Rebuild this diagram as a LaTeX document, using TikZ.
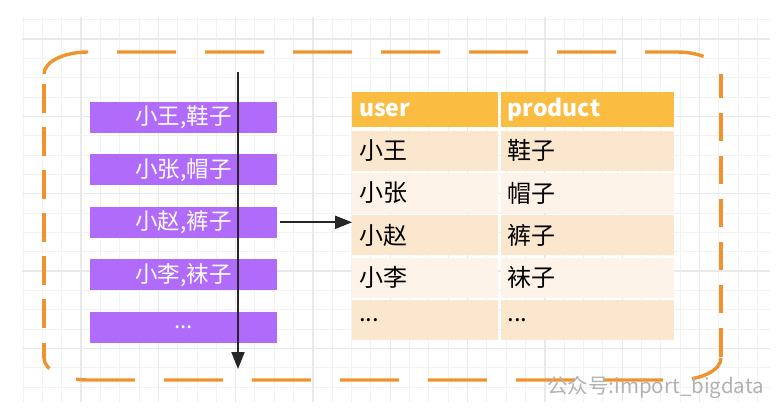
\documentclass[tikz,border=0pt]{standalone}
\usepackage{fontspec}
\setmainfont{Noto Sans CJK SC}
\usepackage{tikz}
\usetikzlibrary{positioning}
\usetikzlibrary{arrows.meta}

\definecolor{gridminor}{RGB}{242,242,242}
\definecolor{gridmajor}{RGB}{233,233,233}
\definecolor{dashorange}{RGB}{240,146,46}
\definecolor{recpurple}{RGB}{176,107,250}
\definecolor{headyellow}{RGB}{250,189,66}
\definecolor{rowdark}{RGB}{251,231,205}
\definecolor{rowlight}{RGB}{253,243,232}
\definecolor{arrowgray}{RGB}{38,38,38}
\definecolor{markgray}{RGB}{178,178,178}

\tikzset{
  gridthin/.style={draw=gridminor, line width=1pt},
  gridthick/.style={draw=gridmajor, line width=1.1pt},
  rimflat/.style={draw=dashorange, line width=3.4pt, dash pattern=on 59pt off 29pt},
  rimside/.style={draw=dashorange, line width=4.6pt, dash pattern=on 28.5pt off 14.5pt},
  record/.style={fill=recpurple, text=white, minimum width=187pt, minimum height=31pt, inner sep=0pt, font=\fontsize{22.5}{26}\selectfont},
  cellbase/.style={anchor=north west, minimum height=40pt, inner xsep=7pt, inner ysep=0pt, align=left, font=\fontsize{24}{28}\selectfont},
  headcell/.style={cellbase, fill=headyellow, text=white, minimum height=35pt, font=\fontsize{23}{27}\selectfont\bfseries},
  darkcell/.style={cellbase, fill=rowdark},
  lightcell/.style={cellbase, fill=rowlight},
  usercol/.style={text width=132pt},
  prodcol/.style={text width=159pt},
  flow/.style={draw=arrowgray, line width=2pt, -{Triangle[length=17pt,width=13pt]}},
  watermark/.style={text=markgray, inner sep=0pt, font=\fontsize{20.5}{24}\selectfont},
}

\begin{document}
\begin{tikzpicture}[x=1pt,y=-1pt]
        \useasboundingbox[fill=white] (0,0) rectangle (781,411);

        % grid paper
        \foreach \k in {0,...,38}
            \draw[gridthin] ({23+19.333*\k},17) -- ({23+19.333*\k},402);
        \foreach \k in {0,...,19}
            \draw[gridthin] (22,{19.7+19.333*\k}) -- (770,{19.7+19.333*\k});
        \foreach \k in {3,7,...,35}
            \draw[gridthick] ({23+19.333*\k},17) -- ({23+19.333*\k},402);
        \foreach \k in {1,5,...,17}
            \draw[gridthick] (22,{19.7+19.333*\k}) -- (770,{19.7+19.333*\k});

        % dashed frame
        \draw[rimflat, dash phase=5.7pt] (44,74) arc[x radius=44, y radius=22, start angle=180, end angle=270]
                    -- (677,52) arc[x radius=44, y radius=22, start angle=270, end angle=360];
        \draw[rimside, dash phase=4pt] (721,74) -- (721,358);
        \draw[rimflat, dash phase=20.7pt] (721,358) arc[x radius=44, y radius=22, start angle=0, end angle=90]
                    -- (88,380) arc[x radius=44, y radius=22, start angle=90, end angle=180];
        \draw[rimside, dash phase=13pt] (44,358) -- (44,74);

        % records
        \node[record] (r1) at (183.5,117.5) {小王,鞋子};
        \node[record, below=21pt of r1] (r2) {小张,帽子};
        \node[record, below=21pt of r2] (r3) {小赵,裤子};
        \node[record, below=21pt of r3] (r4) {小李,袜子};
        \node[record, below=21pt of r4] (r5) {...};

        % table
        \node[headcell, usercol] (huser) at (352,92) {user};
        \node[headcell, prodcol, right=2pt of huser] (hprod) {product};
        \node[darkcell, usercol, below=3pt of huser] (u1) {小王};
        \node[darkcell, prodcol, right=2pt of u1] (p1) {鞋子};
        \node[lightcell, usercol, below=2pt of u1] (u2) {小张};
        \node[lightcell, prodcol, right=2pt of u2] (p2) {帽子};
        \node[darkcell, usercol, below=2pt of u2] (u3) {小赵};
        \node[darkcell, prodcol, right=2pt of u3] (p3) {裤子};
        \node[lightcell, usercol, below=2pt of u3] (u4) {小李};
        \node[lightcell, prodcol, right=2pt of u4] (p4) {袜子};
        \node[darkcell, usercol, below=2pt of u4] (u5) {...};
        \node[darkcell, prodcol, right=2pt of u5] (p5) {...};

        % scan and output
        \coordinate (scantop) at (238,72);
        \coordinate (scanend) at (238,369);
        \draw[flow] (scantop) -- (scanend);
        \draw[flow] ([xshift=3pt]r3.east) -- (r3.east -| u3.west);

        \node[watermark, anchor=base east] (mark) at (764,393) {公众号:import\_bigdata};
\end{tikzpicture}
\end{document}
